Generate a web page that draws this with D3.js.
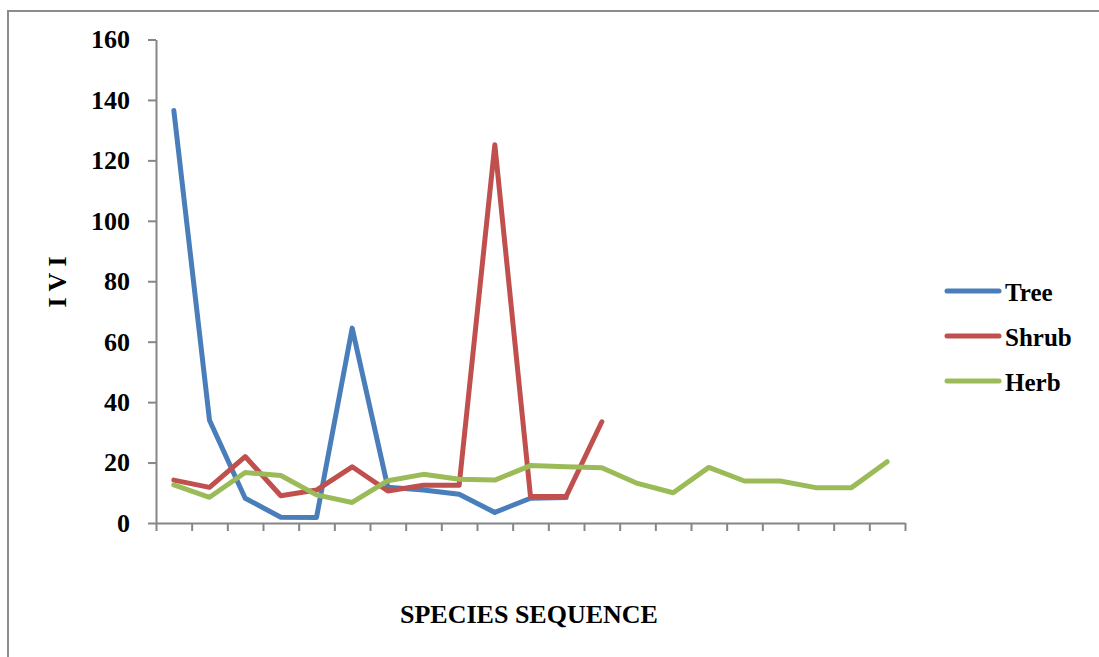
<!DOCTYPE html>
<html>
<head>
<meta charset="utf-8">
<script src="https://cdn.jsdelivr.net/npm/d3@7"></script>
<style>
  html, body { margin: 0; padding: 0; background: #fff; }
  svg { display: block; }
  text { font-family: "Liberation Serif", "Times New Roman", serif; font-weight: bold; fill: #000; }
</style>
</head>
<body>
<svg id="chart" width="1099" height="657"></svg>
<script>
// Species sequence positions (1..21)
const categories = d3.range(1, 22);

// Importance Value Index per species, by life form
const treeValues  = [136.5, 34, 8.2, 1.9, 1.8, 64.5, 11.8, 10.9, 9.5, 3.5, 8.2, 8.4];
const shrubValues = [14.2, 11.8, 22.0, 9.0, 10.9, 18.6, 10.6, 12.5, 12.5, 125.2, 8.8, 8.8, 33.5];
const herbValues  = [12.6, 8.5, 16.7, 15.7, 9.3, 6.8, 14.0, 16.1, 14.5, 14.2, 19.0, 18.6, 18.3,
                     13.1, 10.0, 18.4, 13.9, 13.9, 11.7, 11.7, 20.3];

const seriesNames  = ["Tree", "Shrub", "Herb"];
const seriesColors = ["#4A7EBB", "#C0504D", "#9BBB59"];
const yTicks = [0, 20, 40, 60, 80, 100, 120, 140, 160];

const series = [treeValues, shrubValues, herbValues].map((vals, k) => ({
  name: seriesNames[k],
  color: seriesColors[k],
  points: vals.map((v, i) => ({ cat: categories[i], v }))
}));

const svg = d3.select("#chart");
const plot = { left: 156, right: 905, top: 39.5, bottom: 523 };

// Outer chart frame
svg.append("rect")
  .attr("x", 8).attr("y", 11)
  .attr("width", 1200).attr("height", 700)
  .attr("fill", "none").attr("stroke", "#8c8c8c").attr("stroke-width", 2);

const x = d3.scaleBand().domain(categories).range([plot.left, plot.right]).padding(0);
const xEdges = d3.scaleLinear().domain([0, categories.length]).range([plot.left, plot.right]);
const y = d3.scaleLinear().domain([0, 160]).range([plot.bottom, plot.top]);

// Y axis
const yAxis = svg.append("g")
  .attr("transform", `translate(${plot.left},0)`)
  .call(d3.axisLeft(y).tickValues(yTicks).tickSize(8).tickPadding(18).tickSizeOuter(0));
yAxis.select(".domain").attr("stroke", "#868686").attr("stroke-width", 2);
yAxis.selectAll(".tick line").attr("stroke", "#868686").attr("stroke-width", 2);
yAxis.selectAll(".tick text")
  .style("font-family", '"Liberation Serif", "Times New Roman", serif')
  .style("font-weight", "bold").style("font-size", "26px").attr("fill", "#000");

// X axis with tick marks at category boundaries
const xAxis = svg.append("g")
  .attr("transform", `translate(0,${plot.bottom})`)
  .call(d3.axisBottom(xEdges).tickValues(d3.range(0, categories.length + 1))
    .tickSize(8).tickSizeOuter(0).tickFormat(""));
xAxis.select(".domain").attr("stroke", "#868686").attr("stroke-width", 2);
xAxis.selectAll(".tick line").attr("stroke", "#868686").attr("stroke-width", 2);

// Series lines
const line = d3.line()
  .x(d => x(d.cat) + x.bandwidth() / 2)
  .y(d => y(d.v));

svg.append("g").selectAll("path")
  .data(series)
  .join("path")
  .attr("d", d => line(d.points))
  .attr("fill", "none")
  .attr("stroke", d => d.color)
  .attr("stroke-width", 5)
  .attr("stroke-linejoin", "round")
  .attr("stroke-linecap", "round");

// Axis titles
svg.append("text")
  .attr("transform", "translate(66,282) rotate(-90)")
  .attr("text-anchor", "middle")
  .style("font-size", "26px")
  .text("I V I");

svg.append("text")
  .attr("x", 529).attr("y", 623)
  .attr("text-anchor", "middle")
  .style("font-size", "26px")
  .text("SPECIES SEQUENCE");

// Legend
const legend = svg.append("g");
const legendY = [291, 336, 381];
series.forEach((s, i) => {
  legend.append("line")
    .attr("x1", 947).attr("x2", 999)
    .attr("y1", legendY[i]).attr("y2", legendY[i])
    .attr("stroke", s.color).attr("stroke-width", 5)
    .attr("stroke-linecap", "round");
  legend.append("text")
    .attr("x", 1005).attr("y", legendY[i] + 10)
    .style("font-size", "25px")
    .text(s.name);
});
</script>
</body>
</html>
